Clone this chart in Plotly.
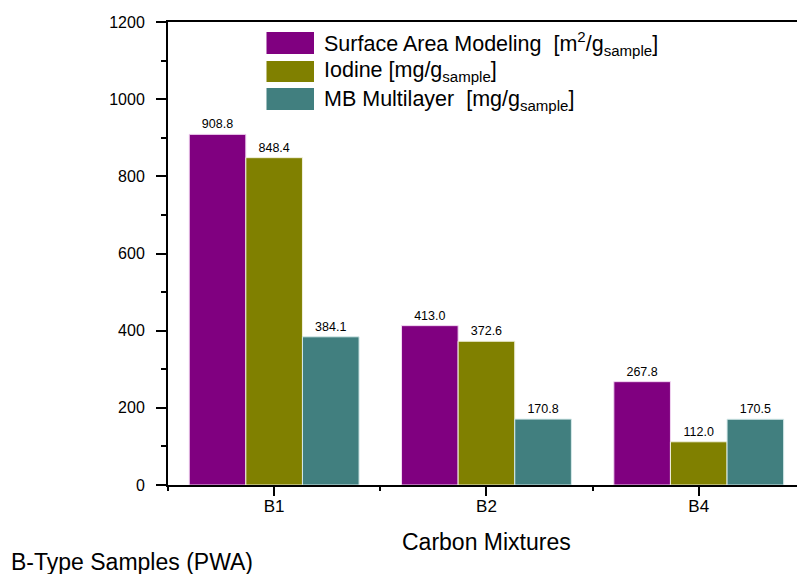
import plotly.graph_objects as go

categories = ["B1", "B2", "B4"]
surface_area = [908.8, 413.0, 267.8]
iodine = [848.4, 372.6, 112.0]
mb_multilayer = [384.1, 170.8, 170.5]

series_names = [
    "Surface Area Modeling  [m<sup>2</sup>/g<sub>sample</sub>]",
    "Iodine [mg/g<sub>sample</sub>]",
    "MB Multilayer  [mg/g<sub>sample</sub>]",
]
colors = ["#800080", "#808000", "#417f7f"]
edge_colors = ["#f2d6f2", "#f0f0dc", "#d6eaea"]

W, H = 797, 574
L, R, T, B = 168, 0, 22, 89
FONT = "Liberation Sans, Arial, sans-serif"

def px(x):
    return (x - L) / (W - L - R)

def py(y):
    return (H - B - y) / (H - T - B)

xpos = list(range(len(categories)))
fig = go.Figure()
for name, vals, c, ec in zip(series_names, [surface_area, iodine, mb_multilayer], colors, edge_colors):
    fig.add_trace(go.Bar(
        x=xpos, y=vals, name=name,
        marker=dict(color=c, line=dict(color=ec, width=1)),
        texttemplate="%{y:.1f}", textposition="outside",
        textfont=dict(size=12.5, color="#000000", family=FONT),
        cliponaxis=False, showlegend=False,
    ))

# manual legend
rows = [(32, 54, 43), (61, 82, 72), (88, 110, 100)]
for (y0, y1, yc), name, c in zip(rows, series_names, colors):
    fig.add_shape(type="rect", xref="paper", yref="paper",
                  x0=px(266.5), x1=px(314), y0=py(y1), y1=py(y0),
                  fillcolor=c, line=dict(width=0))
    fig.add_annotation(xref="paper", yref="paper", x=px(322), y=py(yc),
                       xanchor="left", yanchor="middle", text=name, showarrow=False,
                       font=dict(size=21.5, color="#000000", family=FONT))

# axis title (centered on the full frame, which extends past the window)
fig.add_annotation(xref="x", yref="paper", x=1, y=py(542), text="Carbon Mixtures",
                   showarrow=False, xanchor="center", yanchor="middle",
                   font=dict(size=23, color="#000000", family=FONT))
fig.add_annotation(xref="paper", yref="paper", x=px(9), y=py(562), text="B-Type Samples (PWA)",
                   showarrow=False, xanchor="left", yanchor="middle",
                   font=dict(size=23, color="#000000", family=FONT))

fig.update_layout(
    width=W, height=H,
    margin=dict(l=L, r=R, t=T, b=B, autoexpand=False),
    paper_bgcolor="white", plot_bgcolor="white",
    barmode="group", bargap=0.2, bargroupgap=0,
    font=dict(family=FONT, color="#000000"),
    xaxis=dict(
        range=[-0.5, -0.5 + (W - L) / 212.3],
        tickvals=xpos, ticktext=categories,
        ticks="outside", ticklen=9, tickwidth=2, tickcolor="#000000",
        showline=True, linecolor="#000000", linewidth=2, mirror=True,
        showgrid=False, zeroline=False,
        tickfont=dict(size=17, color="#000000", family=FONT),
        ticklabelstandoff=-4,
        minor=dict(tickvals=[-0.5, 0.5, 1.5, 2.5], ticks="outside", ticklen=4,
                   tickwidth=2, tickcolor="#000000", showgrid=False),
        automargin=False,
    ),
    yaxis=dict(
        range=[0, 1200], tickvals=[0, 200, 400, 600, 800, 1000, 1200],
        ticks="outside", ticklen=10, tickwidth=2, tickcolor="#000000",
        showline=True, linecolor="#000000", linewidth=2,
        showgrid=False, zeroline=False,
        tickfont=dict(size=16, color="#000000", family=FONT),
        ticklabelstandoff=8,
        minor=dict(tickvals=[100, 300, 500, 700, 900, 1100], ticks="outside", ticklen=5,
                   tickwidth=2, tickcolor="#000000", showgrid=False),
        automargin=False,
    ),
)

fig.write_html("out.html")
